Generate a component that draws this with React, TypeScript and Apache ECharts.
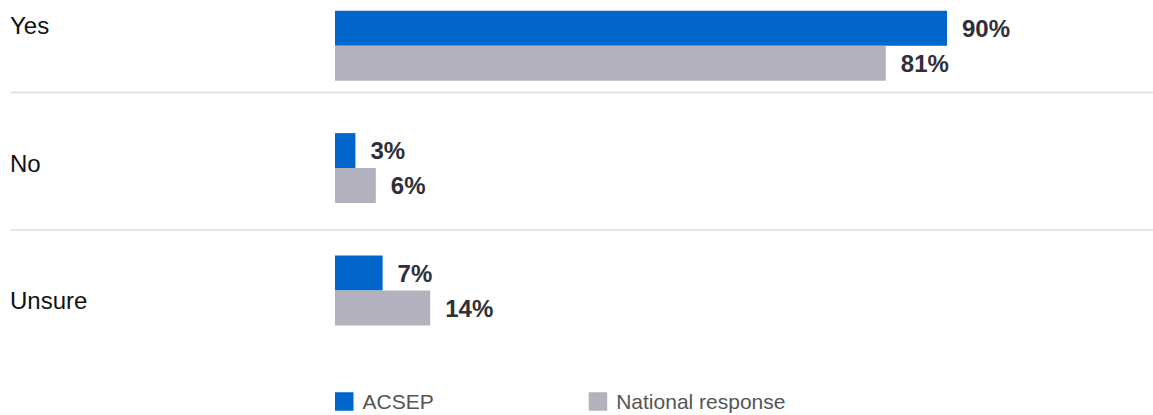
import React, { useEffect, useRef } from "react";
import * as echarts from "echarts";

const categories = ["Yes", "No", "Unsure"];
const seriesNames = ["ACSEP", "National response"];
const acsepValues = [90, 3, 7];
const nationalValues = [81, 6, 14];

const FONT = "'Liberation Sans', Arial, Helvetica, sans-serif";

export default function App() {
  const ref = useRef<HTMLDivElement>(null);

  useEffect(() => {
    document.body.style.margin = "0";
    if (!ref.current) return;
    const chart = echarts.init(ref.current, undefined, { renderer: "svg" });

    const labelY = [25.5, 163.5, 300.5];
    const lineY = [92.5, 230];

    const valueLabel = {
      show: true,
      position: "right",
      distance: 15,
      formatter: "{c}%",
      fontFamily: FONT,
      fontSize: 24,
      fontWeight: "bold",
      color: "#2f2f3a",
    };

    chart.setOption({
      animation: false,
      textStyle: { fontFamily: FONT },
      grid: {
        left: 335,
        right: 138,
        top: -15.5,
        height: 367.2,
        containLabel: false,
        outerBoundsMode: "none",
      },
      xAxis: { type: "value", min: 0, max: 100, show: false },
      yAxis: {
        type: "category",
        data: categories,
        inverse: true,
        show: false,
      },
      legend: {
        left: 335,
        top: 391,
        padding: 0,
        icon: "rect",
        itemWidth: 18.5,
        itemHeight: 18.5,
        itemGap: 155,
        data: seriesNames,
        textStyle: {
          fontFamily: FONT,
          fontSize: 21,
          lineHeight: 21,
          color: "#555555",
          padding: [0, 0, 0, 4],
        },
      },
      graphic: [
        ...categories.map((c, i) => ({
          type: "text",
          left: 10,
          top: labelY[i] - 12,
          style: {
            text: c,
            fontFamily: FONT,
            fontSize: 24,
            fill: "#111111",
            textVerticalAlign: "top",
          },
        })),
        ...lineY.map((y) => ({
          type: "line",
          shape: { x1: 10, y1: y, x2: 1153, y2: y },
          style: { stroke: "#dddddd", lineWidth: 1.5 },
        })),
      ],
      series: [
        {
          name: seriesNames[0],
          type: "bar",
          data: acsepValues,
          barWidth: 35,
          barGap: "0%",
          itemStyle: { color: "#0066cc" },
          label: valueLabel,
        },
        {
          name: seriesNames[1],
          type: "bar",
          data: nationalValues,
          barWidth: 35,
          barGap: "0%",
          itemStyle: { color: "#b2b1bd" },
          label: valueLabel,
        },
      ],
    });

    return () => chart.dispose();
  }, []);

  return <div ref={ref} style={{ width: 1153, height: 415 }} />;
}
